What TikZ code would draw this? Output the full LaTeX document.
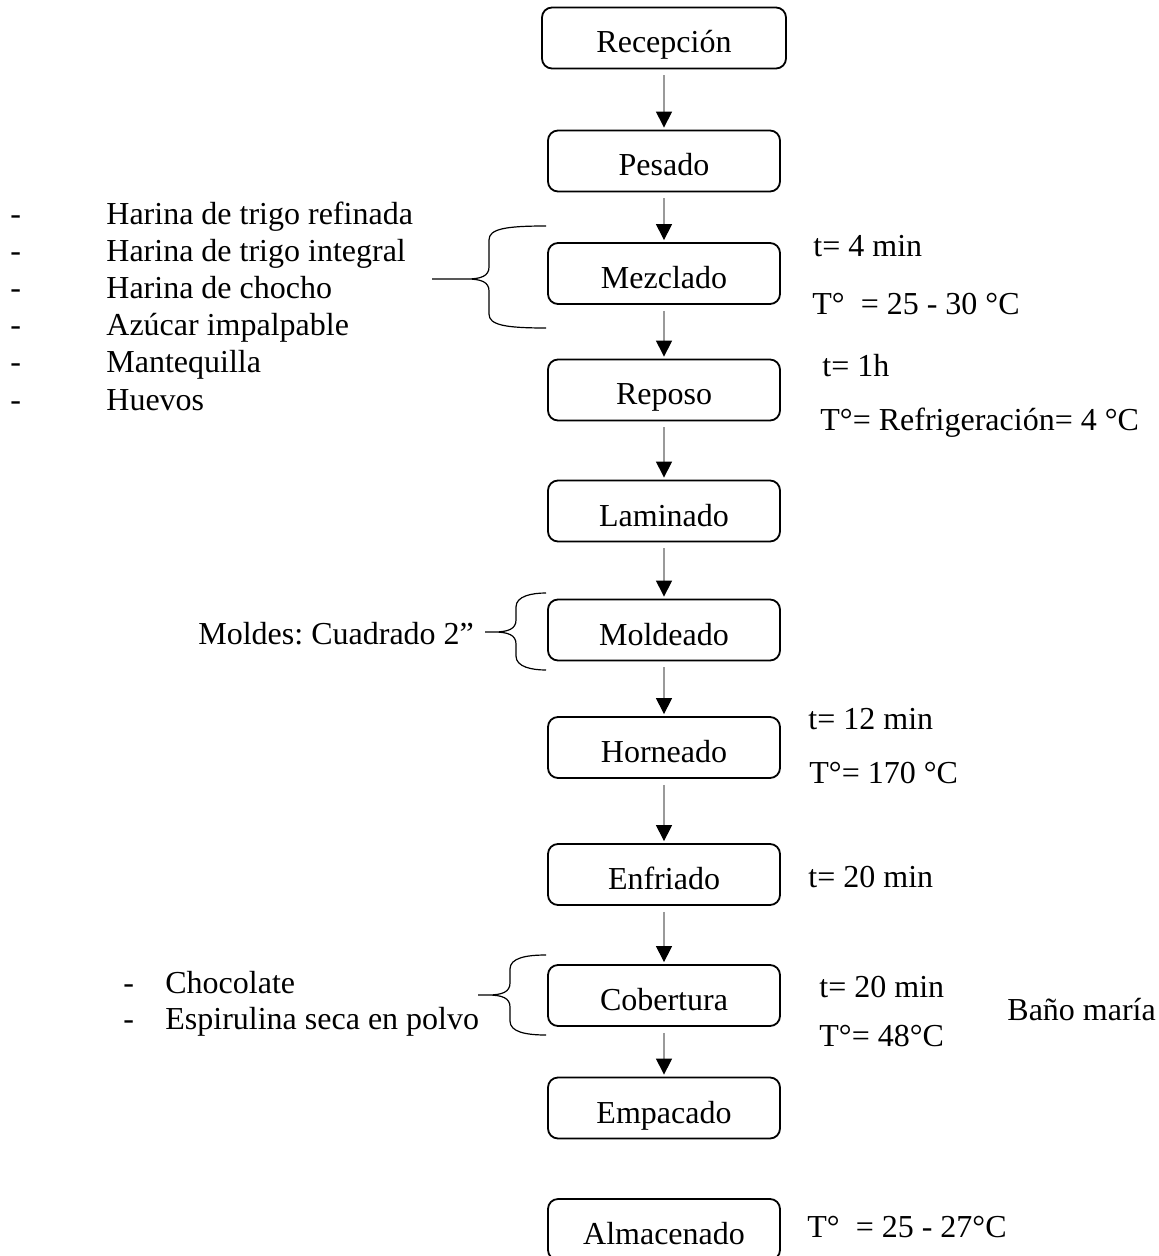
\documentclass[tikz,border=0pt]{standalone}
\usepackage{fontspec}
\setmainfont{Liberation Serif}
\usepackage{tikz}
\usetikzlibrary{arrows.meta}
\definecolor{FlujoLinea}{HTML}{9A9A9A}
\frenchspacing

\begin{document}
\begin{tikzpicture}[x=0.5pt,y=-0.5pt,
  paso/.style={draw,line width=0.9pt,rounded corners=5pt,minimum width=116pt,minimum height=30.5pt,inner sep=0pt,text height=16pt,text depth=1pt,font=\fontsize{16}{19}\selectfont},
  nota/.style={anchor=base west,inner sep=0pt,font=\fontsize{16}{19}\selectfont},
  flecha/.style={FlujoLinea,line width=0.6pt,-{Triangle[width=8pt,length=8pt,color=black]},shorten <=3pt,shorten >=1pt},
  llave/.style={line width=0.6pt}]
\useasboundingbox (0,0) rectangle (1159,1256);

% pasos del proceso
\node[paso,minimum width=122pt] (rec) at (664,38) {Recepción};
\foreach \nm/\y/\lab in {pes/161/Pesado,mez/273.5/Mezclado,rep/390/Reposo,lam/511/Laminado,mol/630/Moldeado,hor/747.5/Horneado,enf/874.5/Enfriado,cob/995.5/Cobertura,emp/1108/Empacado,alm/1229.5/Almacenado} {
  \node[paso] (\nm) at (664,\y) {\lab};
}
\foreach \a/\b in {rec/pes,pes/mez,mez/rep,rep/lam,lam/mol,mol/hor,hor/enf,enf/cob,cob/emp} {
  \draw[flecha] (\a.south) -- (\b.north);
}

% ingredientes
\foreach \y/\lab [count=\i] in {225/Harina de trigo refinada,262/Harina de trigo integral,299/Harina de chocho,336/Azúcar impalpable,373/Mantequilla,410/Huevos} {
  \node[nota] (guion\i) at (10,\y) {-};
  \node[nota] (ing\i) at (106,\y) {\lab};
}
\foreach \y/\lab [count=\i] in {993/Chocolate,1029/Espirulina seca en polvo} {
  \node[nota] (guioncob\i) at (123,\y) {-};
  \node[nota] (cobing\i) at (165,\y) {\lab};
}
\node[nota] (moldes) at (198,644) {Moldes: Cuadrado 2”};

% llaves
\foreach \xt/\xv/\yt/\ym/\yb in {432/489/226/279/328,485/516/593/632/670,478/510/955/995/1035} {
  \draw[llave] (546,\yt) .. controls (\xv+16,\yt) and (\xv,\yt+3) .. (\xv,\yt+14) -- (\xv,\ym-12)
    .. controls (\xv,\ym-3) and (\xv-8,\ym) .. (\xv-22,\ym) -- (\xt,\ym)
    (\xv-22,\ym) .. controls (\xv-8,\ym) and (\xv,\ym+3) .. (\xv,\ym+12) -- (\xv,\yb-14)
    .. controls (\xv,\yb-3) and (\xv+16,\yb) .. (546,\yb);
}

% condiciones
\node[nota] (tmez) at (813,257) {t= 4 min};
\node[nota] (Tmez) at (812,315) {T°\ \ = 25 - 30 °C};
\node[nota] (trep) at (822,377) {t= 1h};
\node[nota] (Trep) at (820,430) {T°= Refrigeración= 4 °C};
\node[nota] (thor) at (808,729) {t= 12 min};
\node[nota] (Thor) at (809,783) {T°= 170 °C};
\node[nota] (tenf) at (808,887) {t= 20 min};
\node[nota] (tcob) at (819,997) {t= 20 min};
\node[nota] (Tcob) at (819,1046) {T°= 48°C};
\node[nota] (bano) at (1007,1020) {Baño maría};
\node[nota] (Talm) at (807,1237) {T°\ \ = 25 - 27°C};
\end{tikzpicture}
\end{document}
